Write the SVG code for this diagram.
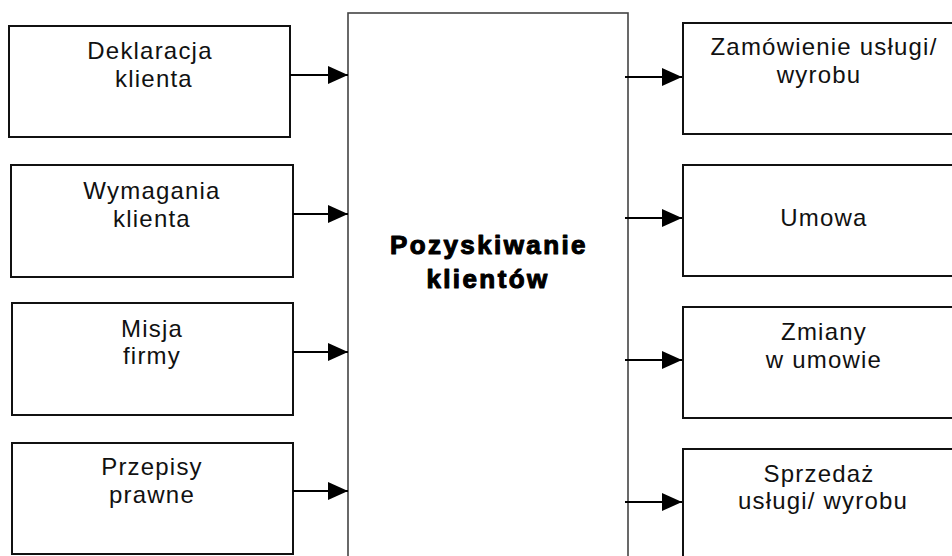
<svg xmlns="http://www.w3.org/2000/svg" width="952" height="556" viewBox="0 0 952 556">
  <style>
    .box { fill: #ffffff; stroke: #111111; stroke-width: 2; }
    .core { fill: #ffffff; stroke: #444444; stroke-width: 1.6; }
    .lbl { font-family: "Liberation Sans", Arial, sans-serif; font-size: 24px; letter-spacing: 1.2px; fill: #111111; text-anchor: middle; }
    .title { font-family: "Liberation Sans", Arial, sans-serif; font-size: 26px; font-weight: bold; letter-spacing: 2.4px; fill: #000000; stroke: #000000; stroke-width: 1.1; stroke-linejoin: round; text-anchor: middle; }
    .conn { stroke: #000000; stroke-width: 2; fill: none; }
  </style>
  <defs>
    <marker id="arrow" markerUnits="userSpaceOnUse" markerWidth="20" markerHeight="18" refX="20" refY="9" orient="auto">
      <path d="M0,0 L20,9 L0,18 Z" fill="#000000"/>
    </marker>
  </defs>

  <rect width="952" height="556" fill="#ffffff"/>

  <!-- central process -->
  <g id="pozyskiwanie">
    <rect class="core" x="348" y="13" width="280" height="560"/>
    <text class="title" x="489" y="254">Pozyskiwanie</text>
    <text class="title" x="488" y="288">klientów</text>
  </g>

  <!-- inputs -->
  <g id="deklaracja">
    <rect class="box" x="9" y="26" width="281" height="111"/>
    <text class="lbl" x="150" y="59">Deklaracja</text>
    <text class="lbl" x="154" y="87">klienta</text>
  </g>
  <g id="wymagania">
    <rect class="box" x="11" y="165" width="282" height="112"/>
    <text class="lbl" x="152" y="199">Wymagania</text>
    <text class="lbl" x="152" y="227">klienta</text>
  </g>
  <g id="misja">
    <rect class="box" x="12" y="303" width="281" height="112"/>
    <text class="lbl" x="152" y="337">Misja</text>
    <text class="lbl" x="152" y="364">firmy</text>
  </g>
  <g id="przepisy">
    <rect class="box" x="12" y="443" width="281" height="111"/>
    <text class="lbl" x="152" y="475">Przepisy</text>
    <text class="lbl" x="152" y="503">prawne</text>
  </g>

  <!-- outputs -->
  <g id="zamowienie">
    <rect class="box" x="683" y="23" width="280" height="111"/>
    <text class="lbl" x="824" y="55">Zamówienie usługi/</text>
    <text class="lbl" x="819" y="83">wyrobu</text>
  </g>
  <g id="umowa">
    <rect class="box" x="683" y="165" width="280" height="111"/>
    <text class="lbl" x="824" y="226">Umowa</text>
  </g>
  <g id="zmiany">
    <rect class="box" x="683" y="307" width="280" height="111"/>
    <text class="lbl" x="824" y="340">Zmiany</text>
    <text class="lbl" x="824" y="368">w umowie</text>
  </g>
  <g id="sprzedaz">
    <rect class="box" x="683" y="449" width="280" height="111"/>
    <text class="lbl" x="819" y="482">Sprzedaż</text>
    <text class="lbl" x="823" y="509">usługi/ wyrobu</text>
  </g>

  <!-- connectors -->
  <g id="connectors">
    <line class="conn" x1="290" y1="75" x2="348" y2="75" marker-end="url(#arrow)"/>
    <line class="conn" x1="293" y1="214" x2="348" y2="214" marker-end="url(#arrow)"/>
    <line class="conn" x1="293" y1="352" x2="348" y2="352" marker-end="url(#arrow)"/>
    <line class="conn" x1="293" y1="491" x2="348" y2="491" marker-end="url(#arrow)"/>
    <line class="conn" x1="625" y1="77" x2="682" y2="77" marker-end="url(#arrow)"/>
    <line class="conn" x1="625" y1="218" x2="682" y2="218" marker-end="url(#arrow)"/>
    <line class="conn" x1="625" y1="360" x2="682" y2="360" marker-end="url(#arrow)"/>
    <line class="conn" x1="625" y1="502" x2="682" y2="502" marker-end="url(#arrow)"/>
  </g>
</svg>
